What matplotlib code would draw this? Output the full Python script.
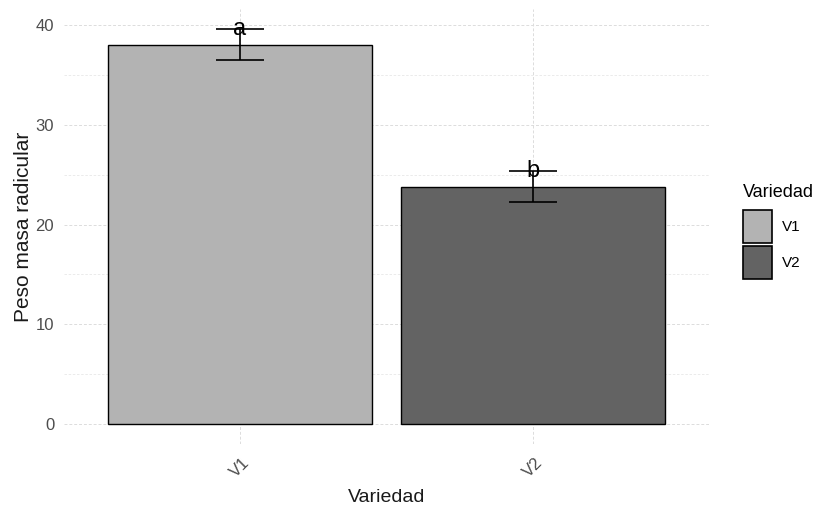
import matplotlib.pyplot as plt
from matplotlib.patches import Patch
from matplotlib.ticker import MultipleLocator

#--------------------------------------#
#data#

variedades = ["V1", "V2"]
medias = [38.0, 23.8]
errores = [1.55, 1.55]
letras = ["a", "b"]
colores = ["#b3b3b3", "#636363"]

#--------------------------------------#
#plot#

plt.rcParams['font.family'] = ['Liberation Sans', 'DejaVu Sans']

fig = plt.figure(figsize=(8.17, 5.07), dpi=100)
ax = fig.add_axes([0.0783, 0.1243, 0.7895, 0.858])

x = list(range(1, len(variedades) + 1))
ax.bar(x, medias, width=0.9, color=colores, edgecolor="black", linewidth=1.0, zorder=2)
ax.errorbar(x, medias, yerr=errores, fmt="none", ecolor="black",
            elinewidth=1.2, capsize=17, capthick=1.2, zorder=3)

for xi, m, e, l in zip(x, medias, errores, letras):
    ax.text(xi, m + e, l, ha="center", va="center", fontsize=17,
            color="black", zorder=4)

ax.set_xlim(0.4, 2.6)
ax.set_ylim(-1.98, 41.6)
ax.set_xticks(x)
ax.set_xticklabels(variedades, rotation=45, ha="center", color="#4d4d4d", fontsize=12)
ax.yaxis.set_major_locator(MultipleLocator(10))
ax.yaxis.set_minor_locator(MultipleLocator(5))
ax.tick_params(axis="y", colors="#4d4d4d", labelsize=12, length=0, which="both", pad=7)
ax.tick_params(axis="x", length=0, pad=8)

ax.grid(True, which="major", color="#dcdcdc", linestyle=(0, (3, 2)), linewidth=0.7, zorder=0)
ax.grid(True, which="minor", axis="y", color="#e8e8e8", linestyle=(0, (3, 2)), linewidth=0.6, zorder=0)
ax.set_axisbelow(True)
for s in ax.spines.values():
    s.set_visible(False)

ax.set_xlabel("Variedad", fontsize=14, color="#1a1a1a", labelpad=6)
ax.set_ylabel("Peso masa radicular", fontsize=15, color="#1a1a1a", labelpad=2)

handles = [Patch(facecolor=c, edgecolor="black", linewidth=1.2, label=v)
           for v, c in zip(variedades, colores)]
leg = fig.legend(handles=handles, title="Variedad", loc="upper left",
                 bbox_to_anchor=(0.893, 0.665), frameon=False, fontsize=11,
                 title_fontsize=13, handlelength=1.9, handleheight=2.95,
                 handletextpad=0.65, labelspacing=0.15)
leg._legend_box.align = "left"
leg._legend_box.sep = 7

fig.savefig("out.png", dpi=100)
